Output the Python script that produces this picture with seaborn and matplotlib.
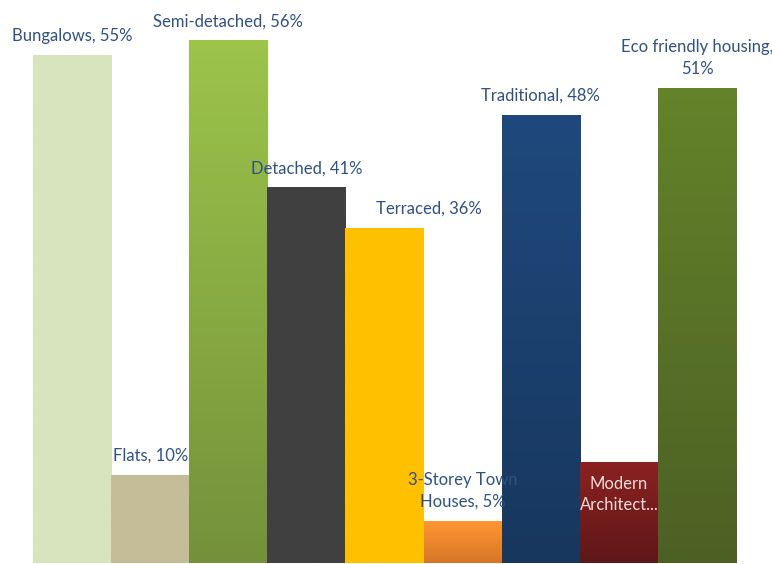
import matplotlib.pyplot as plt
import numpy as np
import pandas as pd
import seaborn as sns
from matplotlib.colors import LinearSegmentedColormap

sns.set_style("white")
plt.rcParams["font.family"] = ["Lato", "DejaVu Sans"]

categories = [
    "Bungalows",
    "Flats",
    "Semi-detached",
    "Detached",
    "Terraced",
    "3-Storey Town Houses",
    "Traditional",
    "Modern Architecture",
    "Eco friendly housing",
]
shares = [54.6, 9.5, 56.2, 40.4, 36.0, 4.5, 48.2, 10.9, 51.1]
labels = [
    "Bungalows, 55%",
    "Flats, 10%",
    "Semi-detached, 56%",
    "Detached, 41%",
    "Terraced, 36%",
    "3-Storey Town\nHouses, 5%",
    "Traditional, 48%",
    "Modern\nArchitect...",
    "Eco friendly housing,\n51%",
]
top_colors = ["#D7E4BD", "#C4BD97", "#9DC44B", "#404040", "#FFC000",
              "#FF9632", "#1F497D", "#8C2222", "#64832A"]
bottom_colors = ["#D7E4BD", "#C4BD97", "#74913A", "#404040", "#FFC000",
                 "#D57628", "#17375E", "#5E1717", "#4C6024"]

df = pd.DataFrame({"category": categories, "share": shares})

fig = plt.figure(figsize=(7.72, 5.64), dpi=100)
ax = fig.add_axes([33 / 772, 1 / 564, 703 / 772, 563 / 564])

sns.barplot(
    data=df,
    x="category",
    y="share",
    hue="category",
    palette=dict(zip(categories, top_colors)),
    width=1.0,
    saturation=1,
    legend=False,
    ax=ax,
)

# vertical gradient fills, clipped to each bar
grad = np.linspace(1, 0, 256).reshape(-1, 1)
for patch, c_top, c_bot in zip(ax.patches, top_colors, bottom_colors):
    x0, y0 = patch.get_x(), patch.get_y()
    w, h = patch.get_width(), patch.get_height()
    cmap = LinearSegmentedColormap.from_list("g", [c_bot, c_top])
    im = ax.imshow(grad, cmap=cmap, aspect="auto", extent=[x0, x0 + w, y0, y0 + h],
                   origin="upper", zorder=patch.get_zorder() + 0.1)
    im.set_clip_path(patch)

ax.set_xlim(-0.5, len(categories) - 0.5)
ax.set_ylim(0, 563 / 9.3)

label_color = "#2F5183"
for i, (patch, text) in enumerate(zip(ax.patches, labels)):
    cx = patch.get_x() + patch.get_width() / 2
    top = patch.get_height()
    if categories[i] == "Modern Architecture":
        ax.annotate(text, (cx, top), xytext=(0, -10), textcoords="offset points",
                    ha="center", va="top", fontsize=12, color="#F2DCDB",
                    linespacing=1.45, zorder=5)
        continue
    dx = 32 if categories[i] == "Terraced" else 0
    ax.annotate(text, (cx, top), xytext=(dx, 8), textcoords="offset points",
                ha="center", va="bottom", fontsize=12, color=label_color,
                linespacing=1.45, zorder=5)

ax.set_axis_off()
fig.savefig("out.png", dpi=100)
